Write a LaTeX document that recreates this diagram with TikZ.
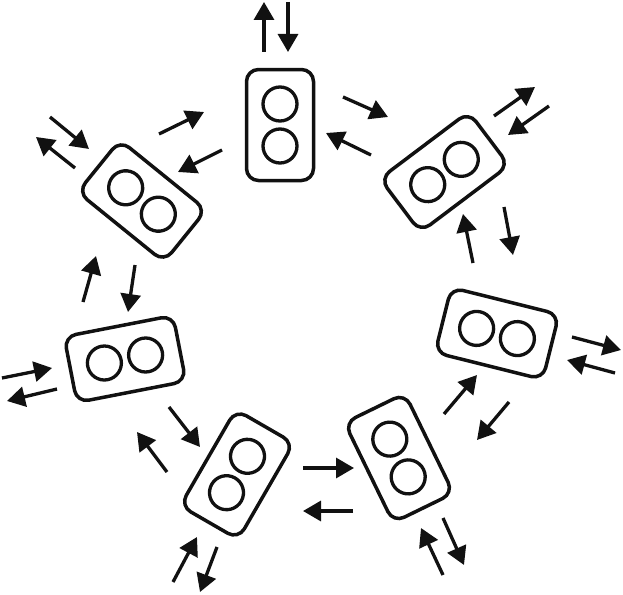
\documentclass[tikz,border=0pt]{standalone}
\usetikzlibrary{arrows.meta}
\definecolor{ink}{RGB}{17,17,17}
\tikzset{
  unitbox/.style={draw=ink, line width=3.5pt, rounded corners=12pt,
    minimum width=111pt, minimum height=67pt, inner sep=0pt},
  hole/.style={draw=ink, line width=3.3pt, circle, minimum size=34pt, inner sep=0pt},
  arw/.style={draw=ink, line width=3.3pt, -{Triangle[length=18pt,width=20pt]}}
}
\newcommand\unit[4]{%
  \begin{scope}[shift={(#2,#3)}, rotate=#4, transform shape]
    \node[unitbox] (#1) at (0,0) {};
    \node[hole] (#1L) at (-21,0) {};
    \node[hole] (#1R) at (21,0) {};
  \end{scope}}
\newcommand\arr[3]{%
  \coordinate (#1s) at #2;
  \coordinate (#1e) at #3;
  \draw[arw] (#1s) -- (#1e);}
\begin{document}
\begin{tikzpicture}[x=1pt,y=-1pt]
\useasboundingbox (0,0) rectangle (623,594);
% units
\unit{A}{280}{125}{90}
\unit{B}{142}{201}{-39}
\unit{C}{444.5}{172}{37}
\unit{D}{125}{359}{11}
\unit{E}{237}{474.5}{60}
\unit{F}{399}{458}{-64}
\unit{G}{497}{333.5}{-14}
% outward pairs
\arr{a1}{(264,52)}{(264,2)}
\arr{a2}{(288,2)}{(288,52)}
\arr{b1}{(50,117)}{(89,149)}
\arr{b2}{(75,168)}{(36,137)}
\arr{c1}{(494,116)}{(535,87)}
\arr{c2}{(549,106)}{(508,135)}
\arr{d1}{(2,378)}{(52,368)}
\arr{d2}{(57,389)}{(7,401)}
\arr{e1}{(173,582)}{(197,537)}
\arr{e2}{(217,547)}{(200,592)}
\arr{f1}{(443,575)}{(421,528)}
\arr{f2}{(443,518)}{(464,565)}
\arr{g1}{(572,337)}{(621,350)}
\arr{g2}{(615,373)}{(567,360)}
% neighbour pairs
\arr{ab1}{(159,134)}{(204,112)}
\arr{ab2}{(222,150)}{(178,172)}
\arr{ac1}{(343,97)}{(388,117)}
\arr{ac2}{(371,155)}{(326,133)}
\arr{cg1}{(473,263)}{(463,214)}
\arr{cg2}{(504,207)}{(513,255)}
\arr{bd1}{(83,302)}{(96,256)}
\arr{bd2}{(135,265)}{(128,312)}
\arr{de1}{(169,407)}{(200,447)}
\arr{de2}{(167,472)}{(137,432)}
\arr{ef1}{(303,468)}{(354,468)}
\arr{ef2}{(353,511)}{(303,511)}
\arr{fg1}{(444,414)}{(477,375)}
\arr{fg2}{(509,402)}{(477,440)}
\end{tikzpicture}
\end{document}
